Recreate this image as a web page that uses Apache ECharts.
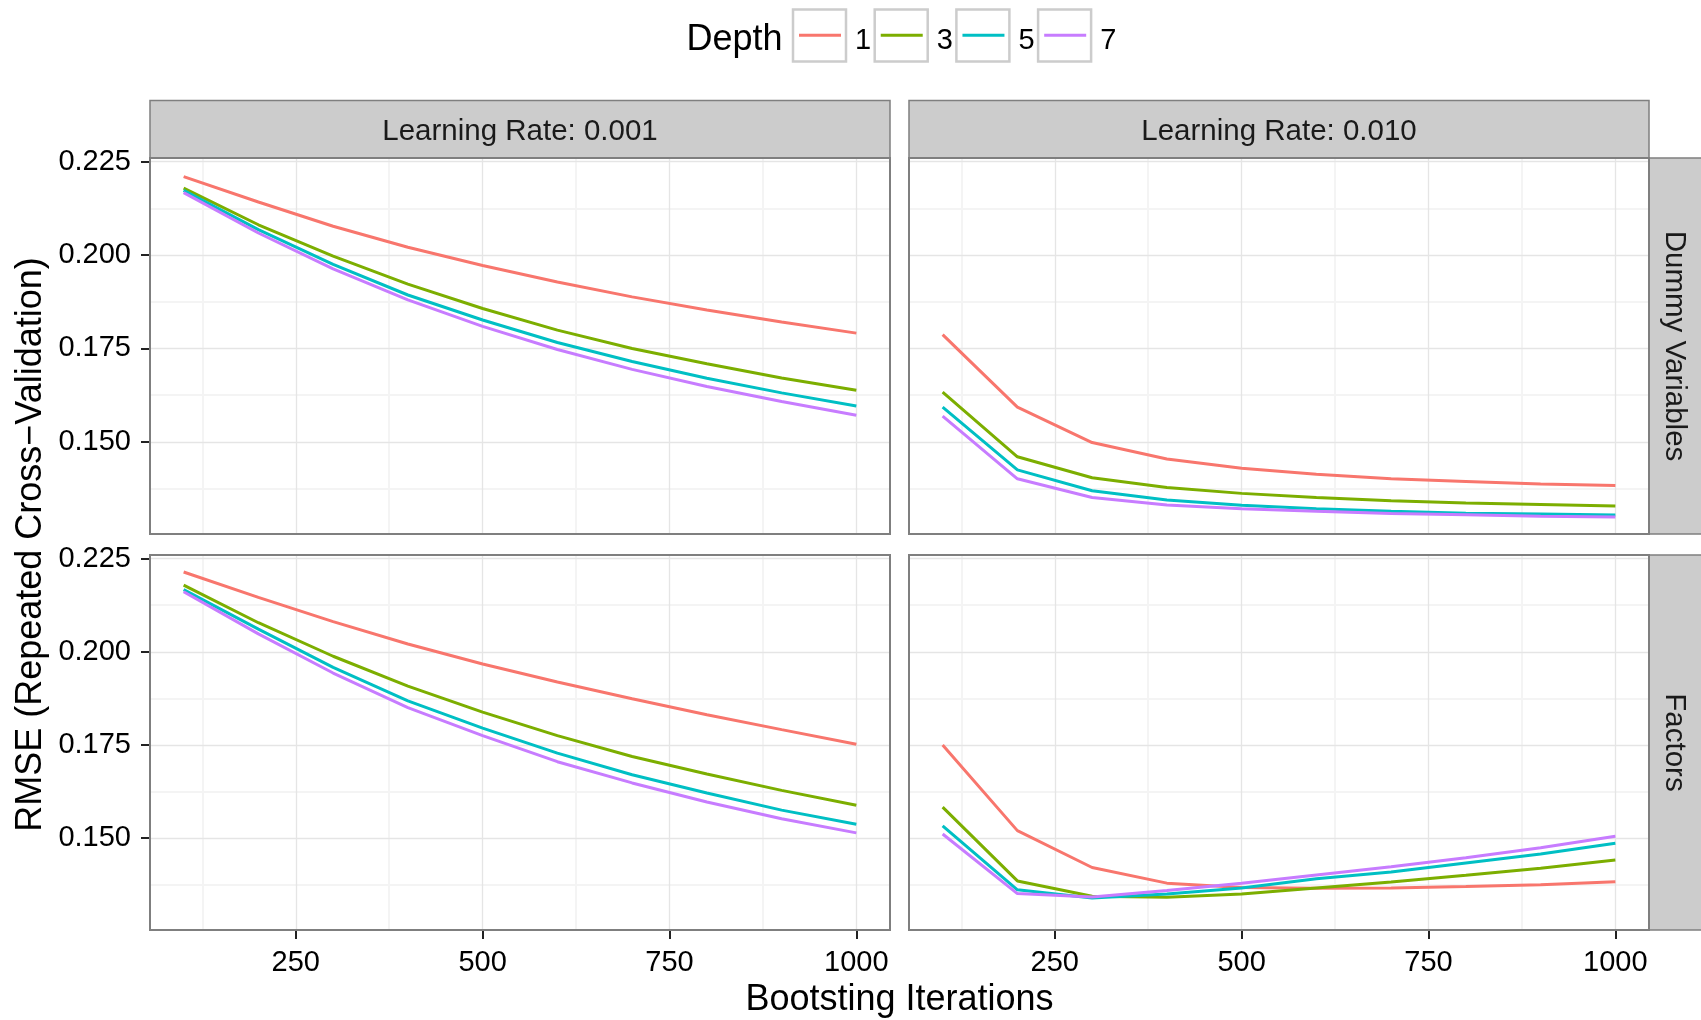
<!DOCTYPE html>
<html>
<head>
<meta charset="utf-8">
<title>RMSE vs Boosting Iterations</title>
<script src="https://cdn.jsdelivr.net/npm/echarts@6/dist/echarts.min.js"></script>
<style>
  html, body { margin: 0; padding: 0; background: #ffffff; }
  #chart { width: 1701px; height: 1020px; }
</style>
</head>
<body>
<div id="chart"></div>
<script>
// Boosting iterations (x) shared by every panel
const iterations = [100, 200, 300, 400, 500, 600, 700, 800, 900, 1000];

// Tree depth levels and their colours
const depths = ['1', '3', '5', '7'];
const depthColors = ['#F8766D', '#7CAE00', '#00BFC4', '#C77CFF'];

// Tick positions
const xTicks = [250, 500, 750, 1000];
const xMinorTicks = [125, 375, 625, 875];
const yTicks = [0.150, 0.175, 0.200, 0.225];
const yMinorTicks = [0.1375, 0.1625, 0.1875, 0.2125];

// Panel labels
const learningRates = ['Learning Rate: 0.001', 'Learning Rate: 0.010'];
const encodings = ['Dummy Variables', 'Factors'];

// RMSE — Dummy Variables, learning rate 0.001
const dummyLr001Depth1 = [0.2210, 0.2142, 0.2077, 0.2021, 0.1972, 0.1928, 0.1888, 0.1853, 0.1821, 0.1791];
const dummyLr001Depth3 = [0.2179, 0.2081, 0.1997, 0.1922, 0.1857, 0.1799, 0.1750, 0.1709, 0.1671, 0.1638];
const dummyLr001Depth5 = [0.2173, 0.2068, 0.1975, 0.1893, 0.1826, 0.1766, 0.1715, 0.1670, 0.1631, 0.1596];
const dummyLr001Depth7 = [0.2167, 0.2059, 0.1963, 0.1880, 0.1809, 0.1747, 0.1694, 0.1648, 0.1608, 0.1571];

// RMSE — Dummy Variables, learning rate 0.010
const dummyLr010Depth1 = [0.1787, 0.1593, 0.1498, 0.1454, 0.1429, 0.1413, 0.1401, 0.1394, 0.1387, 0.1383];
const dummyLr010Depth3 = [0.1633, 0.1460, 0.1404, 0.1378, 0.1362, 0.1351, 0.1342, 0.1336, 0.1332, 0.1328];
const dummyLr010Depth5 = [0.1593, 0.1425, 0.1369, 0.1344, 0.1330, 0.1321, 0.1314, 0.1309, 0.1307, 0.1304];
const dummyLr010Depth7 = [0.1569, 0.1401, 0.1351, 0.1331, 0.1321, 0.1314, 0.1308, 0.1305, 0.1301, 0.1299];

// RMSE — Factors, learning rate 0.001
const factorLr001Depth1 = [0.2214, 0.2146, 0.2081, 0.2021, 0.1967, 0.1919, 0.1874, 0.1831, 0.1791, 0.1752];
const factorLr001Depth3 = [0.2179, 0.2078, 0.1988, 0.1908, 0.1838, 0.1775, 0.1719, 0.1672, 0.1628, 0.1588];
const factorLr001Depth5 = [0.2167, 0.2061, 0.1958, 0.1868, 0.1795, 0.1728, 0.1670, 0.1621, 0.1575, 0.1537];
const factorLr001Depth7 = [0.2161, 0.2048, 0.1943, 0.1850, 0.1775, 0.1705, 0.1648, 0.1597, 0.1552, 0.1514];

// RMSE — Factors, learning rate 0.010
const factorLr010Depth1 = [0.1750, 0.1520, 0.1421, 0.1379, 0.1367, 0.1365, 0.1366, 0.1370, 0.1375, 0.1383];
const factorLr010Depth3 = [0.1583, 0.1385, 0.1344, 0.1341, 0.1350, 0.1366, 0.1382, 0.1400, 0.1419, 0.1441];
const factorLr010Depth5 = [0.1533, 0.1361, 0.1339, 0.1350, 0.1366, 0.1391, 0.1409, 0.1433, 0.1457, 0.1486];
const factorLr010Depth7 = [0.1511, 0.1351, 0.1342, 0.1359, 0.1379, 0.1401, 0.1423, 0.1447, 0.1474, 0.1505];

// Panels in reading order: top-left, top-right, bottom-left, bottom-right
const panels = [
  [dummyLr001Depth1, dummyLr001Depth3, dummyLr001Depth5, dummyLr001Depth7],
  [dummyLr010Depth1, dummyLr010Depth3, dummyLr010Depth5, dummyLr010Depth7],
  [factorLr001Depth1, factorLr001Depth3, factorLr001Depth5, factorLr001Depth7],
  [factorLr010Depth1, factorLr010Depth3, factorLr010Depth5, factorLr010Depth7]
];

const FONT = '"Liberation Sans", Arial, Helvetica, sans-serif';

// Shared scales with a 5% padding on each side of the data range
const allValues = panels.flat(2);
const yLo = Math.min(...allValues), yHi = Math.max(...allValues);
const yPad = (yHi - yLo) * 0.05;
const yMin = yLo - yPad, yMax = yHi + yPad;
const xLo = Math.min(...iterations), xHi = Math.max(...iterations);
const xPad = (xHi - xLo) * 0.05;
const xMin = xLo - xPad, xMax = xHi + xPad;

// Panel geometry
const colLeft = [150, 909];
const rowTop = [158, 555];
const panelW = 740;
const panelH = [376, 375];

const grids = [];
for (let r = 0; r < 2; r++) {
  for (let c = 0; c < 2; c++) {
    grids.push({
      left: colLeft[c], top: rowTop[r], width: panelW, height: panelH[r],
      show: true, backgroundColor: 'transparent',
      borderColor: '#7F7F7F', borderWidth: 2, z: 3
    });
  }
}

const xAxes = [], yAxes = [];
// major axes (index 0..3)
for (let p = 0; p < 4; p++) {
  const bottomRow = p >= 2;
  const leftCol = p % 2 === 0;
  xAxes.push({
    type: 'value', gridIndex: p, min: xMin, max: xMax, position: 'bottom', z: 1,
    axisLine: { show: false },
    axisTick: { show: bottomRow, customValues: xTicks, length: 9, lineStyle: { color: '#222', width: 2 } },
    axisLabel: { show: bottomRow, customValues: xTicks, margin: 18, fontSize: 29, color: '#000', fontFamily: FONT,
      formatter: v => String(Math.round(v)) },
    splitLine: { show: true, lineStyle: { color: '#E5E5E5', width: 1.3 } }
  });
  yAxes.push({
    type: 'value', gridIndex: p, min: yMin, max: yMax, position: 'left', z: 1,
    axisLine: { show: false },
    axisTick: { show: leftCol, customValues: yTicks, length: 9, lineStyle: { color: '#222', width: 2 } },
    axisLabel: { show: leftCol, customValues: yTicks, margin: 19, fontSize: 29, color: '#000', fontFamily: FONT,
      formatter: v => v.toFixed(3) },
    splitLine: { show: true, lineStyle: { color: '#E5E5E5', width: 1.3 } }
  });
}
// minor grid axes (index 4..7)
for (let p = 0; p < 4; p++) {
  xAxes.push({
    type: 'value', gridIndex: p, min: xMin, max: xMax, position: 'bottom', z: 0,
    axisLine: { show: false },
    axisTick: { show: false, customValues: xMinorTicks },
    axisLabel: { show: false, customValues: xMinorTicks },
    splitLine: { show: true, lineStyle: { color: '#F4F4F4', width: 2 } }
  });
  yAxes.push({
    type: 'value', gridIndex: p, min: yMin, max: yMax, position: 'left', z: 0,
    axisLine: { show: false },
    axisTick: { show: false, customValues: yMinorTicks },
    axisLabel: { show: false, customValues: yMinorTicks },
    splitLine: { show: true, lineStyle: { color: '#F4F4F4', width: 2 } }
  });
}

const series = [];
panels.forEach((panel, p) => {
  panel.forEach((values, d) => {
    series.push({
      type: 'line', name: depths[d], xAxisIndex: p, yAxisIndex: p,
      data: iterations.map((it, k) => [it, values[k]]),
      symbol: 'none', silent: true, z: 2,
      lineStyle: { width: 3, color: depthColors[d] },
      itemStyle: { color: depthColors[d] }
    });
  });
});

// Legend key boxes
const keyBoxes = depths.map((_, i) => ({
  type: 'rect', z: 0,
  shape: { x: 793 + i * 81.7, y: 9.5, width: 53, height: 52 },
  style: { fill: '#ffffff', stroke: '#CCCCCC', lineWidth: 2.5 }
}));

// Facet strips
const strips = [];
learningRates.forEach((txt, c) => {
  strips.push({
    type: 'rect', z: 0,
    shape: { x: colLeft[c], y: 100.5, width: panelW, height: 57.5 },
    style: { fill: '#CCCCCC', stroke: '#7F7F7F', lineWidth: 1.5 }
  });
  strips.push({
    type: 'text', z: 1, x: colLeft[c] + panelW / 2, y: 131.5,
    style: { text: txt, fill: '#1A1A1A', font: '29.5px ' + FONT, align: 'center', verticalAlign: 'middle' }
  });
});
encodings.forEach((txt, r) => {
  strips.push({
    type: 'rect', z: 0,
    shape: { x: 1649, y: rowTop[r], width: 60, height: panelH[r] },
    style: { fill: '#CCCCCC', stroke: '#7F7F7F', lineWidth: 1.5 }
  });
  strips.push({
    type: 'text', z: 1, x: 1674, y: rowTop[r] + panelH[r] / 2, rotation: -Math.PI / 2,
    style: { text: txt, fill: '#1A1A1A', font: '29.5px ' + FONT, align: 'center', verticalAlign: 'middle' }
  });
});

const titles = [
  { type: 'text', z: 1, x: 899.5, y: 1000,
    style: { text: 'Bootsting Iterations', fill: '#000', font: '36px ' + FONT, align: 'center', verticalAlign: 'middle' } },
  { type: 'text', z: 1, x: 31, y: 544.5, rotation: Math.PI / 2,
    style: { text: 'RMSE (Repeated Cross\u2212Validation)', fill: '#000', font: '36px ' + FONT, align: 'center', verticalAlign: 'middle' } },
  { type: 'text', z: 1, x: 686.5, y: 40.5,
    style: { text: 'Depth', fill: '#000', font: '36px ' + FONT, align: 'left', verticalAlign: 'middle' } }
];

// Legend key glyph: a 3px stroke sitting in the upper part of a 42x20 cell
const keyLineIcon = 'path://M0,0 M0,3 L42,3 L42,6 L0,6 Z M42,20';

const chart = echarts.init(document.getElementById('chart'), null, { renderer: 'canvas' });
chart.setOption({
  animation: false,
  backgroundColor: '#ffffff',
  textStyle: { fontFamily: FONT },
  legend: {
    data: depths, left: 799, top: 26.3, padding: 0, z: 10,
    orient: 'horizontal', icon: keyLineIcon, itemWidth: 42, itemHeight: 20, itemGap: 9.6,
    selectedMode: false,
    textStyle: { fontSize: 29, color: '#000', fontFamily: FONT, padding: [0, 0, 0, 9] }
  },
  grid: grids,
  xAxis: xAxes,
  yAxis: yAxes,
  series: series,
  graphic: { elements: keyBoxes.concat(strips, titles) }
});
</script>
</body>
</html>
